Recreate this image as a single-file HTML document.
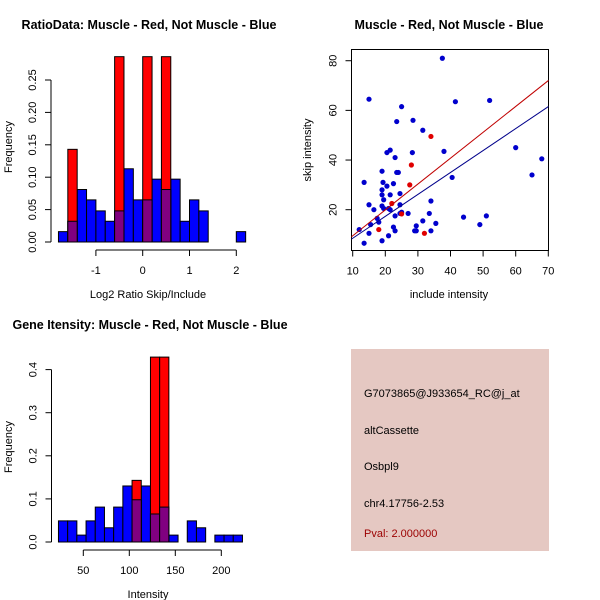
<!DOCTYPE html>
<html><head><meta charset="utf-8"><style>
html,body{margin:0;padding:0;background:#fff}
svg{display:block;font-family:"Liberation Sans",sans-serif}
</style></head><body>
<svg id="c" width="600" height="600" xmlns="http://www.w3.org/2000/svg">
<text x="149" y="29" font-size="12.5" font-weight="bold" text-anchor="middle">RatioData: Muscle - Red, Not Muscle - Blue</text>
<text x="449" y="29" font-size="12.5" font-weight="bold" text-anchor="middle">Muscle - Red, Not Muscle - Blue</text>
<text x="150" y="329" font-size="12.5" font-weight="bold" text-anchor="middle">Gene Itensity: Muscle - Red, Not Muscle - Blue</text>
<text x="148" y="298" font-size="11" text-anchor="middle">Log2 Ratio Skip/Include</text>
<text transform="translate(12,147) rotate(-90)" font-size="11" text-anchor="middle">Frequency</text>
<text x="148" y="598" font-size="11" text-anchor="middle">Intensity</text>
<text transform="translate(12,447) rotate(-90)" font-size="11" text-anchor="middle">Frequency</text>
<text x="449" y="298" font-size="11" text-anchor="middle">include intensity</text>
<text transform="translate(311,150) rotate(-90)" font-size="11" text-anchor="middle">skip intensity</text>
<rect x="351" y="349" width="198" height="202" fill="#e5c8c2"/>
<g font-size="11">
<text x="364" y="397">G7073865@J933654_RC@j_at</text>
<text x="364" y="434">altCassette</text>
<text x="364" y="470">Osbpl9</text>
<text x="364" y="507">chr4.17756-2.53</text>
<text x="364" y="537" fill="#9b0000">Pval: 2.000000</text>
</g>
<g id="g1"></g><g id="g2"></g><g id="g3"></g>
</svg>
<script>
// Ratio histogram
const ratioBinStart = -1.8, ratioBinWidth = 0.2;
const ratioBlue = [0.016,0.032,0.081,0.065,0.048,0.032,0.048,0.113,0.065,0.065,0.097,0.081,0.097,0.032,0.065,0.048,0,0,0,0.016];
const ratioRed  = [0,0.143,0,0,0,0,0.286,0,0,0.286,0,0.286,0,0,0,0,0,0,0,0];
const ratioXTicks = [-1,0,1,2];
const ratioYTicks = [0,0.05,0.10,0.15,0.20,0.25];
const ratioYLabels = ["0.00","0.05","0.10","0.15","0.20","0.25"];
// Intensity histogram
const intBinStart = 23, intBinWidth = 10;
const intBlue = [0.049,0.049,0.016,0.049,0.081,0.033,0.081,0.13,0.098,0.13,0.065,0.081,0.016,0,0.049,0.033,0,0.016,0.016,0.016];
const intRed  = [0,0,0,0,0,0,0,0,0.143,0,0.429,0.429,0,0,0,0,0,0,0,0];
const intXTicks = [50,100,150,200];
const intYTicks = [0,0.1,0.2,0.3,0.4];
const intYLabels = ["0.0","0.1","0.2","0.3","0.4"];
// Scatter
const blueX = [37.5,15,41.5,52,25,23.5,28.5,31.5,38,28.3,20.5,21.5,23,19,23.5,24,13.5,19.3,20.5,22.5,19,19,21.5,24.5,19.5,15,19,24.5,16.5,19.5,21,21.5,17.5,18,23,24.5,25,27,33.5,34,31.5,35.5,29.5,15.5,22.5,23,29,29.5,34,15,21,19,13.5,12,40.5,60,65,68,44,49,51];
const blueY = [81,64.5,63.5,64,61.5,55.5,56,52,43.5,43,43,44,41,35.5,35,35,31,31,29.5,30.5,28,26,26,26.5,24,22,21.5,22,20,20.5,20.5,20,16.5,15,17.5,18.5,19,18.5,18.5,23.5,15.5,14.5,13.5,14,13,11.5,11.5,11.5,11.5,10.5,9.5,7.5,6.5,12,33,45,34,40.5,17,14,17.5];
const redX = [34,28,27.5,22,18,32,25];
const redY = [49.5,38,30,22.5,12,10.5,18.3];
const redFit = [[10,9.5],[70,72]];
const blueFit = [[10,8.5],[70,61.5]];
const scXTicks = [10,20,30,40,50,60,70];
const scYTicks = [20,40,60,80];

const NS="http://www.w3.org/2000/svg";
function mk(parent,tag,attrs){const e=document.createElementNS(NS,tag);for(const k in attrs)e.setAttribute(k,attrs[k]);parent.appendChild(e);return e;}

function hist(g,opt){
  const sx=v=>opt.x0px+(v-opt.x0)*opt.kx, sy=v=>opt.y0px-v*opt.ky;
  opt.blue.forEach((v,i)=>{ if(v<=0)return;
    const a=opt.start+i*opt.w;
    const r=mk(g,'rect',{x:sx(a),y:sy(v),width:sx(a+opt.w)-sx(a),height:sy(0)-sy(v),fill:'#0000ff',stroke:'#000','stroke-width':1});
    
    
  });
  opt.red.forEach((v,i)=>{ if(v<=0)return;
    const a=opt.start+i*opt.w;
    const r=mk(g,'rect',{x:sx(a),y:sy(v),width:sx(a+opt.w)-sx(a),height:sy(0)-sy(v),fill:'#ff0000',stroke:'#000','stroke-width':1});
    
    
    const b=opt.blue[i]; if(b>0){
      const o=mk(g,'rect',{x:sx(a),y:sy(b),width:sx(a+opt.w)-sx(a),height:sy(0)-sy(b),fill:'#800080',stroke:'#000','stroke-width':1});
      
      
    }
  });
  const ay=opt.y0px+8;
  const xa=mk(g,'line',{x1:sx(opt.xt[0]),x2:sx(opt.xt[opt.xt.length-1]),y1:ay,y2:ay,stroke:'#000'});
  
  
  opt.xt.forEach(t=>{mk(g,'line',{x1:sx(t),x2:sx(t),y1:ay,y2:ay+6,stroke:'#000'});
    const tx=mk(g,'text',{x:sx(t),y:ay+24,'font-size':11,'text-anchor':'middle'});tx.textContent=t;
    
    });
  const ax=opt.x0axis;
  const ya=mk(g,'line',{x1:ax,x2:ax,y1:sy(opt.yt[0]),y2:sy(opt.yt[opt.yt.length-1]),stroke:'#000'});
  
  
  opt.yt.forEach((t,i)=>{mk(g,'line',{x1:ax,x2:ax-6,y1:sy(t),y2:sy(t),stroke:'#000'});
    const tx=mk(g,'text',{'font-size':11,'text-anchor':'middle',transform:`translate(${ax-15},${sy(t)}) rotate(-90)`});tx.textContent=opt.yl[i];
    
    });
}
hist(document.getElementById('g1'),{blue:ratioBlue,red:ratioRed,start:ratioBinStart,w:ratioBinWidth,x0:0,x0px:142.7,kx:46.8,y0px:242,ky:648,xt:ratioXTicks,yt:ratioYTicks,yl:ratioYLabels,x0axis:51});
hist(document.getElementById('g2'),{blue:intBlue,red:intRed,start:intBinStart,w:intBinWidth,x0:50,x0px:83.3,kx:0.92,y0px:542,ky:431,xt:intXTicks,yt:intYTicks,yl:intYLabels,x0axis:51.5});

(function(){
  const g=document.getElementById('g3');
  const sx=v=>352.7+(v-10)*3.26, sy=v=>209.7-(v-20)*2.483;
  const L=351.5,R=548.5,T=49.5,B=250.5;
  const box=mk(g,'rect',{x:L,y:T,width:R-L,height:B-T,fill:'none',stroke:'#000'});
  
  
  const cp=mk(g,'clipPath',{id:'cl'});mk(cp,'rect',{x:L,y:T,width:R-L,height:B-T});
  scXTicks.forEach(t=>{mk(g,'line',{x1:sx(t),x2:sx(t),y1:B,y2:B+6,stroke:'#000'});
    const tx=mk(g,'text',{x:sx(t),y:B+24,'font-size':11,'text-anchor':'middle'});tx.textContent=t;
    
    });
  scYTicks.forEach(t=>{mk(g,'line',{x1:L,x2:L-6,y1:sy(t),y2:sy(t),stroke:'#000'});
    const tx=mk(g,'text',{'font-size':11,'text-anchor':'middle',transform:`translate(${L-15},${sy(t)}) rotate(-90)`});tx.textContent=t;
    
    });
  blueX.forEach((x,i)=>{const c=mk(g,'circle',{cx:sx(x),cy:sy(blueY[i]),r:2.6,fill:'#0000cd'});
    
    });
  redX.forEach((x,i)=>{const c=mk(g,'circle',{cx:sx(x),cy:sy(redY[i]),r:2.6,fill:'#e00000'});
    
    });
  function fit(f,col,name){
    const m=(f[1][1]-f[0][1])/(f[1][0]-f[0][0]);
    const xa=9.5,xb=70.5;
    const l=mk(g,'line',{x1:sx(xa),y1:sy(f[0][1]+m*(xa-f[0][0])),x2:sx(xb),y2:sy(f[0][1]+m*(xb-f[0][0])),stroke:col,'clip-path':'url(#cl)'});
    
    
  }
  fit(redFit,'#c00000','red-fit-line');
  fit(blueFit,'#00008b','blue-fit-line');
})();
</script>
</body></html>
